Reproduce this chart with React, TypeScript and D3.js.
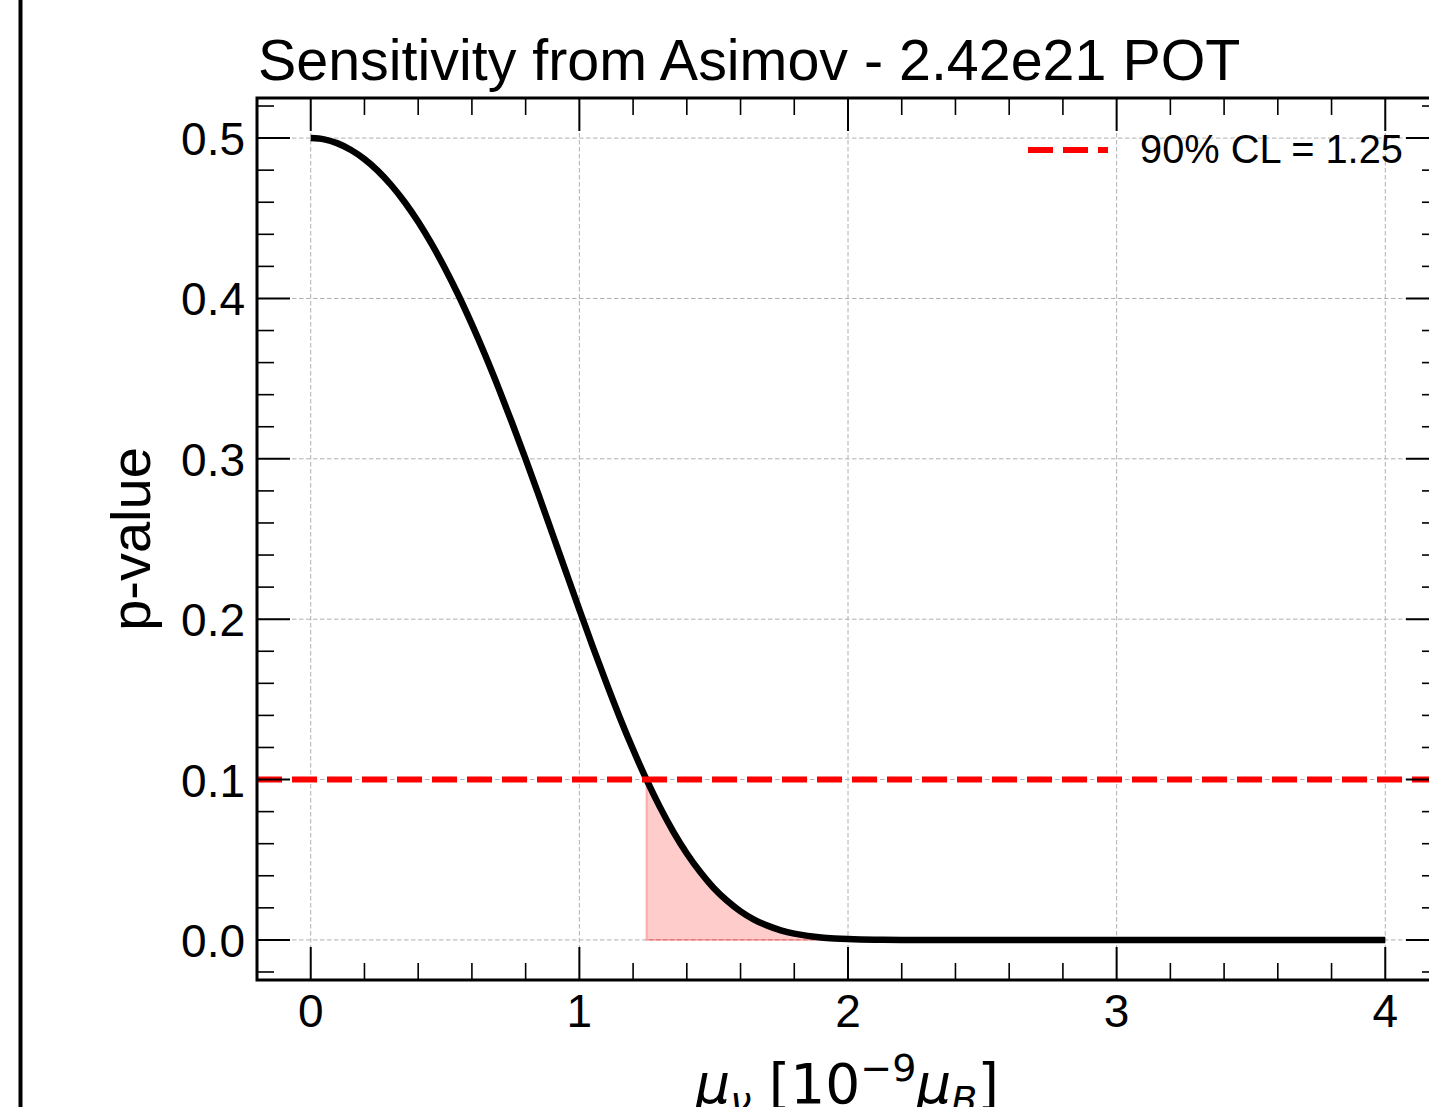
import React, { useEffect } from 'react';
import * as d3 from 'd3';

// values
const muValues = [0, 0.05, 0.1, 0.15, 0.2, 0.25, 0.3, 0.35, 0.4, 0.45, 0.5, 0.55, 0.6, 0.65, 0.7, 0.75, 0.8, 0.85, 0.9, 0.95,
  1.0, 1.05, 1.1, 1.15, 1.2, 1.25, 1.3, 1.35, 1.4, 1.45, 1.5, 1.55, 1.6, 1.65, 1.7, 1.75, 1.8, 1.85, 1.9, 1.95,
  2.0, 2.1, 2.2, 2.5, 3.0, 3.5, 4.0];
const pValues = [0.5, 0.4992, 0.4967, 0.4926, 0.4869, 0.4796, 0.4706, 0.46, 0.4478, 0.434, 0.4187, 0.402, 0.3838, 0.3644, 0.3438, 0.3222, 0.2998, 0.2767, 0.2531, 0.2295,
  0.206, 0.1828, 0.1604, 0.1389, 0.1187, 0.0999, 0.0828, 0.0674, 0.0539, 0.0423, 0.0324, 0.0244, 0.0178, 0.0127, 0.0089, 0.006, 0.0039, 0.0025, 0.0015, 0.0009,
  0.0005, 0.0001, 0, 0, 0, 0, 0];

const clLevel = 0.1;
const clLimit = 1.25;

const xTicks = [0, 1, 2, 3, 4];
const yTicks = [0.0, 0.1, 0.2, 0.3, 0.4, 0.5];

const width = 1429;
const height = 1107;

export default function App() {
  useEffect(() => {
    document.body.style.margin = '0';
  }, []);

  const left = 257, right = 1439, top = 98, bottom = 980;

  const x = d3.scaleLinear().domain([-0.2, 4.2]).range([left, right]);
  const y = d3.scaleLinear().domain([-0.025, 0.525]).range([bottom, top]);

  const data = muValues.map((m, i) => [m, pValues[i]] as [number, number]);

  const line = d3.line<[number, number]>()
    .x(d => x(d[0]))
    .y(d => y(d[1]))
    .curve(d3.curveMonotoneX);

  const shaded = data.filter(d => d[0] >= clLimit);
  const area = d3.area<[number, number]>()
    .x(d => x(d[0]))
    .y0(y(0))
    .y1(d => y(d[1]))
    .curve(d3.curveMonotoneX);

  const xMinor = d3.range(-0.2, 4.21, 0.2).map(v => +v.toFixed(2)).filter(v => !xTicks.includes(v));
  const yMinor = d3.range(-0.02, 0.53, 0.02).map(v => +v.toFixed(2)).filter(v => !yTicks.some(t => Math.abs(t - v) < 1e-6));

  const font = '"Liberation Sans", Arial, Helvetica, sans-serif';
  const majorLen = 33, minorLen = 17;

  return (
    <svg width={width} height={height} style={{ display: 'block', background: '#fff' }}>
      <rect x={0} y={0} width={width} height={height} fill="#fff" />
      <line x1={20.5} x2={20.5} y1={0} y2={height} stroke="#000" strokeWidth={4} />

      {/* grid */}
      <g stroke="#b0b0b0" strokeWidth={1} strokeDasharray="4.5 2.5">
        {xTicks.map(t => <line key={'gx' + t} x1={x(t)} x2={x(t)} y1={top} y2={bottom} />)}
        {yTicks.map(t => <line key={'gy' + t} x1={left} x2={right} y1={y(t)} y2={y(t)} />)}
      </g>

      {/* shaded region beyond the limit */}
      <path d={area(shaded) || ''} fill="rgba(255,0,0,0.2)" stroke="rgba(255,0,0,0.25)" strokeWidth={2} />

      {/* curve */}
      <path d={line(data) || ''} fill="none" stroke="#000" strokeWidth={6.5} />

      {/* CL line */}
      <line x1={left} x2={right} y1={y(clLevel)} y2={y(clLevel)} stroke="#ff0000" strokeWidth={6} strokeDasharray="25 10" />

      {/* ticks */}
      <g stroke="#000">
        {xTicks.map(t => (
          <g key={'xt' + t} strokeWidth={2}>
            <line x1={x(t)} x2={x(t)} y1={bottom} y2={bottom - majorLen} />
            <line x1={x(t)} x2={x(t)} y1={top} y2={top + majorLen} />
          </g>
        ))}
        {xMinor.map(t => (
          <g key={'xm' + t} strokeWidth={1.6}>
            <line x1={x(t)} x2={x(t)} y1={bottom} y2={bottom - minorLen} />
            <line x1={x(t)} x2={x(t)} y1={top} y2={top + minorLen} />
          </g>
        ))}
        {yTicks.map(t => (
          <g key={'yt' + t} strokeWidth={2}>
            <line x1={left} x2={left + majorLen} y1={y(t)} y2={y(t)} />
            <line x1={right} x2={right - majorLen} y1={y(t)} y2={y(t)} />
          </g>
        ))}
        {yMinor.map(t => (
          <g key={'ym' + t} strokeWidth={1.6}>
            <line x1={left} x2={left + minorLen} y1={y(t)} y2={y(t)} />
            <line x1={right} x2={right - minorLen} y1={y(t)} y2={y(t)} />
          </g>
        ))}
      </g>

      {/* spines */}
      <rect x={left} y={top} width={right - left} height={bottom - top} fill="none" stroke="#000" strokeWidth={3} />

      {/* tick labels */}
      <g fontFamily={font} fontSize={46} fill="#000">
        {xTicks.map(t => (
          <text key={'xl' + t} x={x(t)} y={1027} textAnchor="middle">{d3.format('d')(t)}</text>
        ))}
        {yTicks.map(t => (
          <text key={'yl' + t} x={245} y={y(t) + 17} textAnchor="end">{d3.format('.1f')(t)}</text>
        ))}
      </g>

      {/* title */}
      <text x={258} y={80} fontFamily={font} fontSize={57.4} fill="#000">Sensitivity from Asimov - 2.42e21 POT</text>

      {/* y label */}
      <text transform={`translate(150, ${(top + bottom) / 2}) rotate(-90)`} textAnchor="middle" fontFamily={font} fontSize={56} fill="#000">p-value</text>

      {/* x label (cut off at the bottom edge, as in the reference) */}
      <text x={847} y={1103} textAnchor="middle" fontFamily='"DejaVu Sans", sans-serif' fontSize={55} fill="#000">
        <tspan fontStyle="italic">μ</tspan>
        <tspan fontStyle="italic" fontSize={38} dy={10}>ν</tspan>
        <tspan dy={-10}> [10</tspan>
        <tspan fontSize={38} dy={-22}>−9</tspan>
        <tspan fontStyle="italic" dy={22}>μ</tspan>
        <tspan fontStyle="italic" fontSize={38} dy={10}>B</tspan>
        <tspan dy={-10}>]</tspan>
      </text>

      {/* legend */}
      <line x1={1028} x2={1108} y1={150} y2={150} stroke="#ff0000" strokeWidth={6} strokeDasharray="25 10" />
      <text x={1140} y={163} fontFamily={font} fontSize={39.8} fill="#000">90% CL = {clLimit.toFixed(2)}</text>
    </svg>
  );
}
